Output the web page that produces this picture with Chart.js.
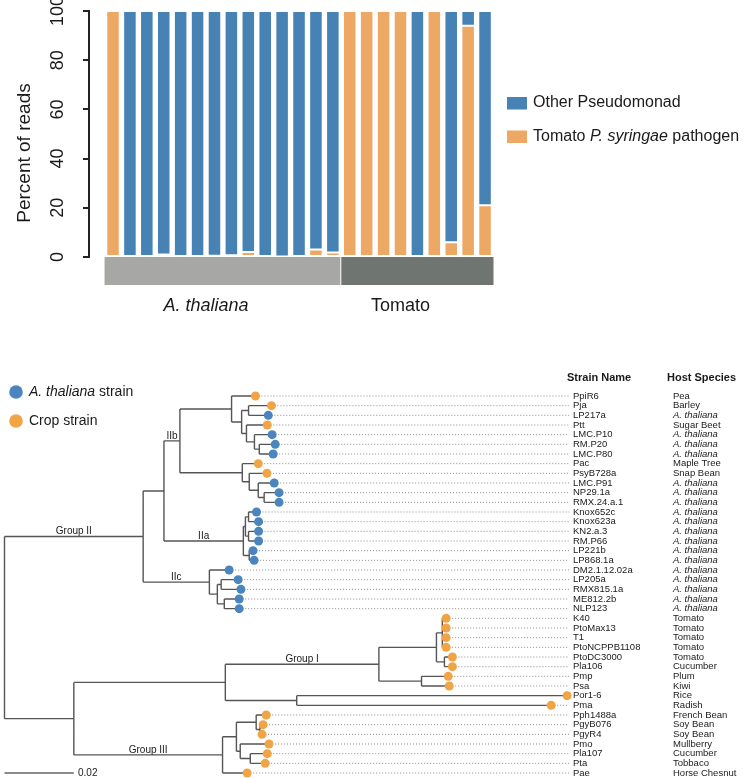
<!DOCTYPE html>
<html>
<head>
<meta charset="utf-8">
<script src="https://cdn.jsdelivr.net/npm/chart.js@4.4.1/dist/chart.umd.min.js"></script>
<style>
  html, body { margin: 0; padding: 0; background: #fff; }
  #barWrap { position: absolute; left: 0; top: 0; width: 746px; height: 330px; }
  #treeWrap { position: absolute; left: 0; top: 330px; width: 746px; height: 448px; }
</style>
</head>
<body>
<div id="barWrap"><canvas id="barChart"></canvas></div>
<div id="treeWrap"><canvas id="treeChart"></canvas></div>
<script>
// ---- bar chart data (percent of reads per sample) ----
const hostGroups = ["A. thaliana", "Tomato"];
const groupSizes = [14, 9];
const pathogenPct = [100, 0, 0, 1, 0, 0, 0.5, 0.7, 2, 0, 0.2, 0.4, 3, 1.8, 100, 100, 100, 100, 0, 100, 6, 94, 21];
const otherPct = [0, 100, 100, 99, 100, 100, 99.5, 99.3, 98, 100, 99.8, 99.6, 97, 98.2, 0, 0, 0, 0, 100, 0, 94, 6, 79];
const yTicks = [0, 20, 40, 60, 80, 100];

// ---- tree data ----
const strainNames = ["PpiR6", "Pja", "LP217a", "Ptt", "LMC.P10", "RM.P20", "LMC.P80", "Pac", "PsyB728a",
  "LMC.P91", "NP29.1a", "RMX.24.a.1", "Knox652c", "Knox623a", "KN2.a.3", "RM.P66", "LP221b", "LP868.1a",
  "DM2.1.12.02a", "LP205a", "RMX815.1a", "ME812.2b", "NLP123", "K40", "PtoMax13", "T1", "PtoNCPPB1108",
  "PtoDC3000", "Pla106", "Pmp", "Psa", "Por1-6", "Pma", "Pph1488a", "PgyB076", "PgyR4", "Pmo", "Pla107",
  "Pta", "Pae"];
const hostSpecies = ["Pea", "Barley", "A. thaliana", "Sugar Beet", "A. thaliana", "A. thaliana", "A. thaliana",
  "Maple Tree", "Snap Bean", "A. thaliana", "A. thaliana", "A. thaliana", "A. thaliana", "A. thaliana",
  "A. thaliana", "A. thaliana", "A. thaliana", "A. thaliana", "A. thaliana", "A. thaliana", "A. thaliana",
  "A. thaliana", "A. thaliana", "Tomato", "Tomato", "Tomato", "Tomato", "Tomato", "Cucumber", "Plum", "Kiwi",
  "Rice", "Radish", "French Bean", "Soy Bean", "Soy Bean", "Mullberry", "Cucumber", "Tobbaco", "Horse Chesnut"];
const treeNewick = "(((((PpiR6:0.0069,((Pja:0.0066,LP217a:0.0057):0.0020,(Ptt:0.0060,(LMC.P10:0.0051,(RM.P20:0.0046,LMC.P80:0.0040):0.0014):0.0023):0.0014):0.0029):0.0149," +
  "(Pac:0.0046,(PsyB728a:0.0051,(LMC.P91:0.0046,(NP29.1a:0.0043,RMX.24.a.1:0.0043):0.0017):0.0026):0.0020):0.0180)IIb:0.0046," +
  "(((Knox652c:0.0023,Knox623a:0.0029):0.0009,(KN2.a.3:0.0029,RM.P66:0.0029):0.0009):0.0006,(LP221b:0.0011,LP868.1a:0.0014):0.0017)IIa:0.0229):0.0060," +
  "(DM2.1.12.02a:0.0057,((LP205a:0.0049,RMX815.1a:0.0057):0.0011,(ME812.2b:0.0043,NLP123:0.0043):0.0020):0.0023)IIc:0.0191)Group_II:0.0400," +
  "(((((K40:0.0011,PtoMax13:0.0011,T1:0.0011,PtoNCPPB1108:0.0011):0.0017,(PtoDC3000:0.0023,Pla106:0.0023):0.0023):0.0166,(Pmp:0.0077,Psa:0.0080):0.0123)Group_I:0.0443," +
  "(Por1-6:0.0780,Pma:0.0734):0.0206):0.0437," +
  "(((Pph1488a:0.0029,(PgyB076:0.0009,PgyR4:0.0006):0.0011):0.0057,(Pmo:0.0083,(Pla107:0.0049,Pta:0.0043):0.0029):0.0011):0.0040,Pae:0.0071)Group_III:0.0429):0.0200);";
const scaleBarLength = 0.02;
const leaderEnd = 0.1629;

const FONT = "'Liberation Sans', Arial, Helvetica, sans-serif";
const TEXT = "#1a1a1a";
const BLUE = "#4682b4";
const ORANGE = "#eea866";
const DOT_BLUE = "#4a85bd";
const DOT_ORANGE = "#f0a446";
const BAND_COLORS = ["#a7a7a4", "#6f7670"];
const italicTerms = ["A. thaliana", "P. syringae"];

// text with italic species names
function drawRich(ctx, text, x, y, size, opts = {}) {
  const parts = text.split(/(A\. thaliana|P\. syringae)/).filter(Boolean);
  const fontFor = (p) => `${italicTerms.includes(p) ? "italic " : ""}${opts.bold ? "bold " : ""}${size}px ${FONT}`;
  let total = 0;
  parts.forEach((p) => { ctx.font = fontFor(p); total += ctx.measureText(p).width; });
  let cx = opts.align === "center" ? x - total / 2 : x;
  ctx.textAlign = "left";
  ctx.textBaseline = "middle";
  parts.forEach((p) => {
    ctx.font = fontFor(p);
    ctx.fillText(p, cx, y);
    cx += ctx.measureText(p).width;
  });
}

// ---------- bar chart ----------
const barDecor = {
  id: "barDecor",
  afterDraw(chart) {
    const { ctx, scales: { x, y } } = chart;
    ctx.save();
    ctx.fillStyle = TEXT;

    // rotated y tick labels
    ctx.font = `18px ${FONT}`;
    ctx.textAlign = "center";
    ctx.textBaseline = "middle";
    yTicks.forEach((v) => {
      ctx.save();
      ctx.translate(58, y.getPixelForValue(v));
      ctx.rotate(-Math.PI / 2);
      ctx.fillText(String(v), 0, 0);
      ctx.restore();
    });
    ctx.save();
    ctx.font = `19px ${FONT}`;
    ctx.translate(25, 153);
    ctx.rotate(-Math.PI / 2);
    ctx.fillText("Percent of reads", 0, 0);
    ctx.restore();

    // host group bands
    let start = 0;
    hostGroups.forEach((g, gi) => {
      const n = groupSizes[gi];
      const x0 = x.getPixelForValue(start - 0.5);
      const x1 = x.getPixelForValue(start + n - 0.5);
      ctx.fillStyle = BAND_COLORS[gi];
      ctx.fillRect(x0, y.bottom, x1 - x0 - (gi < hostGroups.length - 1 ? 1 : 0), 28);
      ctx.fillStyle = TEXT;
      drawRich(ctx, g, (x0 + x1) / 2 - 17, 306, 18, { align: "center" });
      start += n;
    });

    // legend
    const items = chart.data.datasets.slice().reverse();
    items.forEach((ds, i) => {
      const cy = 103 + i * 33.5;
      ctx.fillStyle = ds.backgroundColor;
      ctx.fillRect(507, cy - 6, 20, 12.5);
      ctx.fillStyle = TEXT;
      drawRich(ctx, ds.label, 533, cy, 16);
    });
    ctx.restore();
  }
};

new Chart(document.getElementById("barChart"), {
  type: "bar",
  data: {
    datasets: [
      {
        label: "Tomato P. syringae pathogen",
        data: pathogenPct.map((v, i) => ({ x: i, y: v })),
        backgroundColor: ORANGE,
        borderColor: "#ffffff",
        borderWidth: 1,
        borderSkipped: false,
        barPercentage: 0.8,
        categoryPercentage: 1,
        stack: "reads"
      },
      {
        label: "Other Pseudomonad",
        data: otherPct.map((v, i) => ({ x: i, y: v })),
        backgroundColor: BLUE,
        borderColor: "#ffffff",
        borderWidth: 1,
        borderSkipped: false,
        barPercentage: 0.8,
        categoryPercentage: 1,
        stack: "reads"
      }
    ]
  },
  options: {
    animation: false,
    responsive: true,
    maintainAspectRatio: false,
    events: [],
    layout: { padding: { top: 11, bottom: 73, left: 0, right: 252.5 } },
    plugins: { legend: { display: false }, tooltip: { enabled: false } },
    scales: {
      x: { type: "linear", min: -1.42, max: 22.5, offset: false, stacked: true, display: false },
      y: {
        min: 0,
        max: 100,
        stacked: true,
        ticks: { display: false, stepSize: 20 },
        grid: { drawOnChartArea: false, drawTicks: true, tickLength: 6, color: "#222", lineWidth: 2 },
        border: { display: true, color: "#222", width: 2 },
        afterFit(scale) { scale.width = 89; }
      }
    }
  },
  plugins: [barDecor]
});

// ---------- tree ----------
function parseNewick(s) {
  let i = 0;
  function readNode() {
    const node = { children: [], name: "", len: 0 };
    if (s[i] === "(") {
      i++;
      node.children.push(readNode());
      while (s[i] === ",") { i++; node.children.push(readNode()); }
      i++; // ')'
    }
    let name = "";
    while (i < s.length && !",():;".includes(s[i])) name += s[i++];
    node.name = name.replace(/_/g, " ");
    if (s[i] === ":") {
      i++;
      let num = "";
      while (i < s.length && !",();".includes(s[i])) num += s[i++];
      node.len = parseFloat(num);
    }
    return node;
  }
  return readNode();
}

const root = parseNewick(treeNewick);
const leaves = [];
const internals = [];
function layoutTree(node, parentX) {
  node.parentX = parentX;
  node.x = parentX + node.len;
  if (!node.children.length) {
    node.y = leaves.length;
    leaves.push(node);
  } else {
    node.children.forEach((c) => layoutTree(c, node.x));
    node.y = (node.children[0].y + node.children[node.children.length - 1].y) / 2;
    internals.push(node);
  }
}
layoutTree(root, 0);

const edgePoints = [];
const gap = { x: null, y: null };
internals.forEach((n) => {
  const first = n.children[0], last = n.children[n.children.length - 1];
  edgePoints.push({ x: n.x, y: first.y }, { x: n.x, y: last.y }, gap);
  n.children.forEach((c) => edgePoints.push({ x: n.x, y: c.y }, { x: c.x, y: c.y }, gap));
});
const leaderPoints = [];
leaves.forEach((l) => leaderPoints.push({ x: l.x, y: l.y }, { x: leaderEnd, y: l.y }, gap));
const dotPoints = leaves.map((l) => ({ x: l.x, y: l.y }));
const leafHost = (l) => hostSpecies[strainNames.indexOf(l.name)];
const dotColors = leaves.map((l) => (leafHost(l) === "A. thaliana" ? DOT_BLUE : DOT_ORANGE));

const treeDecor = {
  id: "treeDecor",
  afterDraw(chart) {
    const { ctx, scales: { x, y } } = chart;
    ctx.save();
    ctx.fillStyle = TEXT;

    // column headers
    drawRich(ctx, "Strain Name", 567, 48, 11, { bold: true });
    drawRich(ctx, "Host Species", 667, 48, 11, { bold: true });

    // leaf labels
    leaves.forEach((l) => {
      const py = y.getPixelForValue(l.y);
      drawRich(ctx, l.name, 573, py, 9.5);
      drawRich(ctx, leafHost(l), 673, py, 9.5);
    });

    // clade labels
    internals.filter((n) => n.name).forEach((n) => {
      const px = (x.getPixelForValue(n.parentX) + x.getPixelForValue(n.x)) / 2;
      drawRich(ctx, n.name, px, y.getPixelForValue(n.y) - 5, 10, { align: "center" });
    });

    // scale bar text
    drawRich(ctx, String(scaleBarLength), 78, y.getPixelForValue(leaves.length - 1), 10);

    // legend
    [["A. thaliana strain", DOT_BLUE], ["Crop strain", DOT_ORANGE]].forEach(([label, color], i) => {
      const cy = 62 + i * 29;
      ctx.beginPath();
      ctx.arc(16, cy, 6.8, 0, Math.PI * 2);
      ctx.fillStyle = color;
      ctx.fill();
      ctx.fillStyle = TEXT;
      drawRich(ctx, label, 29, cy, 14);
    });
    ctx.restore();
  }
};

new Chart(document.getElementById("treeChart"), {
  type: "scatter",
  data: {
    datasets: [
      { data: dotPoints, pointBackgroundColor: dotColors, pointRadius: 4.5, pointHoverRadius: 4.5, pointBorderWidth: 0, clip: false },
      { data: edgePoints, showLine: true, pointRadius: 0, borderColor: "#555", borderWidth: 1.4, spanGaps: false, clip: false },
      { data: leaderPoints, showLine: true, pointRadius: 0, borderColor: "#8c8c8c", borderWidth: 1, borderDash: [1, 2], spanGaps: false, clip: false },
      { data: [{ x: 0, y: leaves.length - 1 }, { x: scaleBarLength, y: leaves.length - 1 }], showLine: true, pointRadius: 0, borderColor: "#666", borderWidth: 1.3, clip: false }
    ]
  },
  options: {
    animation: false,
    responsive: true,
    maintainAspectRatio: false,
    events: [],
    layout: { padding: { top: 66, bottom: 5, left: 1, right: 1 } },
    plugins: { legend: { display: false }, tooltip: { enabled: false } },
    scales: {
      x: { type: "linear", min: 0, max: 0.2126, display: false },
      y: { type: "linear", min: 0, max: 39, reverse: true, display: false }
    }
  },
  plugins: [treeDecor]
});
</script>
</body>
</html>
